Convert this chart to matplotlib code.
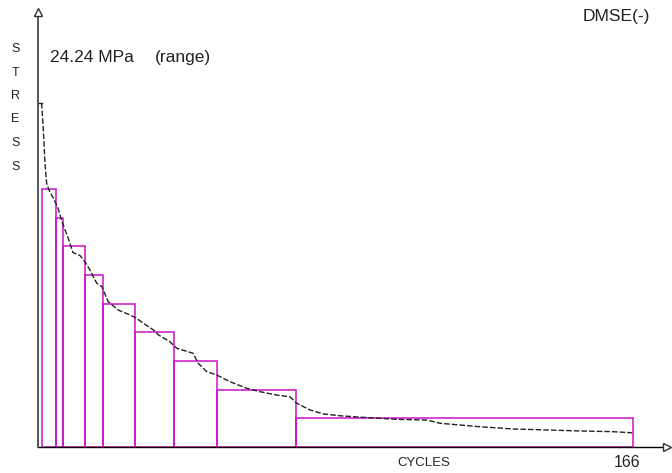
import matplotlib
matplotlib.use('Agg')
import matplotlib.pyplot as plt

# stress range histogram blocks (cycle edges, block heights in MPa)
block_edges = [1, 5, 7, 13, 18, 27, 38, 50, 72, 166]
block_levels = [18.18, 16.16, 14.14, 12.12, 10.10, 8.08, 6.06, 4.04, 2.02]

# ordered stress range curve
curve_cycles = [0, 1, 1.2, 1.5, 1.95, 2.4, 3.07, 4.27, 5.5, 6.8, 8.45, 9.77, 11.7,
                13.1, 14.5, 16.4, 17.8, 19.6, 22.4, 25.7, 27.5, 29.4, 32.2, 33.6,
                36.8, 38.7, 43.3, 44.7, 47.1, 49.9, 53.6, 58.2, 61.9, 66.6, 70.3,
                72.2, 75.9, 79.6, 84.3, 90.7, 100.1, 108.5, 112.2, 123.3, 132.6,
                141.9, 151.2, 160.4, 165.8]
curve_stress = [24.24, 24.24, 23.5, 22.3, 20.0, 18.6, 18.1, 17.55, 16.9, 15.8, 14.7,
                13.7, 13.5, 13.06, 12.47, 11.54, 11.3, 10.24, 9.65, 9.3, 9.07, 8.72,
                8.25, 7.9, 7.42, 6.96, 6.6, 5.9, 5.31, 5.07, 4.6, 4.14, 3.9, 3.66,
                3.54, 3.08, 2.61, 2.33, 2.2, 2.09, 1.95, 1.9, 1.67, 1.43, 1.27, 1.2,
                1.13, 1.08, 1.0]

max_range = 24.24
n_cycles = 166

W, H = 672, 473
fig = plt.figure(figsize=(W / 100, H / 100), dpi=100)
plt.rcParams['font.family'] = ['Liberation Sans', 'DejaVu Sans']

x_px = 3.584   # pixels per cycle
y_px = 14.19   # pixels per MPa
ax = fig.add_axes([38 / W, 26 / H, (W - 38) / W, 447 / H])
ax.set_xlim(0, (W - 38) / x_px)
ax.set_ylim(0, 447 / y_px)
ax.axis('off')

# axes with arrow heads
x_end = (667 - 38) / x_px
y_end = (447 - 12) / y_px
ax.plot([0, x_end], [0, 0], color='black', lw=1, clip_on=False, zorder=5)
ax.plot([0, 0], [0, y_end], color='#555555', lw=1.4, clip_on=False, zorder=5)
ax.plot([x_end], [0], marker='>', ms=6, mfc='white', mec='#333333', mew=1,
        clip_on=False, zorder=6)
ax.plot([0], [y_end], marker='^', ms=6, mfc='white', mec='#333333', mew=1,
        clip_on=False, zorder=6)

# blocks
lefts = block_edges[:-1]
widths = [b - a for a, b in zip(block_edges[:-1], block_edges[1:])]
ax.bar(lefts, block_levels, width=widths, align='edge', fill=False,
       edgecolor='#CC11CC', linewidth=1.1, zorder=2)

# curve
ax.plot(curve_cycles[:2], curve_stress[:2], color='#222222', lw=1, zorder=3)
ax.plot(curve_cycles[1:], curve_stress[1:], color='#222222', lw=1,
        linestyle=(0, (4, 1.5)), zorder=3)


def fx(x):
    return x / W


def fy(y):
    return 1 - y / H


for i, ch in enumerate('STRESS'):
    fig.text(fx(15.5), fy(49 + 23.5 * i), ch, fontsize=9, ha='center', va='center',
             color='#222222')

fig.text(fx(50), fy(57.5), f'{max_range} MPa', fontsize=12.5, ha='left', va='center',
         color='#222222')
fig.text(fx(155), fy(57.5), '(range)', fontsize=12.5, ha='left', va='center',
         color='#222222')
fig.text(fx(616), fy(16), 'DMSE(-)', fontsize=12.5, ha='center', va='center',
         color='#222222')
fig.text(fx(424), fy(463), 'CYCLES', fontsize=9.5, ha='center', va='center',
         color='#222222')
fig.text(fx(627.5), fy(462.5), str(n_cycles), fontsize=11.5, ha='center', va='center',
         color='#222222')

fig.savefig('out.png', dpi=100)
